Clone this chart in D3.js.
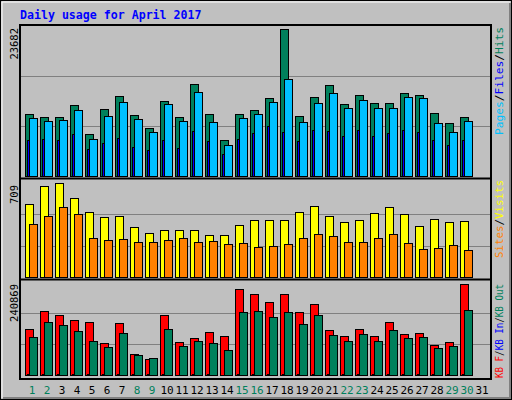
<!DOCTYPE html>
<html><head><meta charset="utf-8">
<script src="https://cdn.jsdelivr.net/npm/d3@7"></script>
<style>body{margin:0;background:#fff}svg{display:block}text{font-family:"DejaVu Sans Mono",monospace}</style>
</head><body><svg id="c" width="512" height="400"></svg>
<script>
const days = d3.range(1,32);
const weekend = [1,2,8,9,15,16,22,23,29,30];
const hits  = [9790,9316,9316,11211,6632,10579,12632,9632,7579,11842,9316,14526,9790,5684,9790,10421,12316,23210,9474,12474,14369,11368,12789,11526,11526,13105,12789,9947,8368,9316];
const pages = [9158,8684,8842,10421,5842,9474,11684,9000,6947,11368,8684,13263,8526,4895,9158,9790,11684,15316,8526,11526,13105,10737,12000,10737,10737,12474,12316,8368,6947,8684];
const files = [5684,5842,5684,6632,4263,5211,6000,4579,4105,5684,4421,7105,5526,3474,5842,6789,7895,6947,5526,7263,7105,6316,7263,6316,6789,7263,6947,5684,4895,5684];
const visits = [549,686,709,595,488,450,457,374,335,358,351,358,320,320,389,427,427,427,488,534,457,412,427,480,526,473,381,435,412,419];
const sites  = [396,457,526,473,297,282,290,267,267,282,297,267,274,252,259,229,236,252,297,328,313,267,267,297,328,259,213,221,244,206];
const kbF   = [119140,165760,155400,142450,137270,82880,134680,54390,41440,155400,85470,95830,111370,101010,222740,209790,189070,209790,163170,183890,116550,101010,119140,101010,137270,106190,108780,77700,85470,235690];
const kbOut = [98420,137270,129500,113960,88060,72520,108780,51800,44030,119140,75110,88060,82880,64750,163170,165760,150220,163170,132090,155400,103600,88060,106190,88060,116550,95830,98420,69930,75110,168350];
const kbIn  = [1500,1500,1500,1500,1500,1500,2500,1500,1500,1500,1000,2500,1500,1000,1500,1500,1500,3500,1500,1500,2500,1500,1500,1500,1500,1500,1500,1500,1500,1500];
const maxHits = 23682, maxVisits = 709, maxKB = 240869;

const svg = d3.select("#c");
svg.append("rect").attr("x",0.5).attr("y",0.5).attr("width",511).attr("height",399).attr("fill","#C0C0C0").attr("stroke","#000");
svg.append("path").attr("d","M2,398V2H510").attr("fill","none").attr("stroke","#fff");
svg.append("path").attr("d","M3,398H510V3").attr("fill","none").attr("stroke","#808080").attr("stroke-width",2);
svg.append("text").attr("x",20).attr("y",19).attr("fill","#0000FF").attr("font-weight","bold").attr("font-size",11.6).text("Daily usage for April 2017");

const x = d3.scaleLinear().domain([1,2]).range([25,40]);
const L=20,R=491;
svg.append("rect").attr("x",L).attr("y",25).attr("width",R-L).attr("height",354).attr("fill","#C0C0C0").attr("stroke","#000").attr("stroke-width",2);
[178.5,279.5].forEach(y=>svg.append("line").attr("x1",L).attr("x2",R).attr("y1",y).attr("y2",y).attr("stroke","#000").attr("stroke-width",2));

function panel(y0,y1,max,series,label){
  const y = d3.scaleLinear().domain([0,max]).range([y0,y1]);
  [max/3,2*max/3].forEach(v=>svg.append("line").attr("x1",L+1).attr("x2",R-1).attr("y1",Math.round(y(v))+0.5).attr("y2",Math.round(y(v))+0.5).attr("stroke","#808080"));
  series.forEach(s=>{
    svg.append("g").selectAll("rect").data(s.data).join("rect")
      .attr("x",(d,i)=>x(i+1)+s.off+0.5).attr("width",s.w)
      .attr("y",d=>Math.round(y(d))+0.5).attr("height",d=>y0-Math.round(y(d)))
      .attr("fill",s.color).attr("stroke","#000").attr("stroke-width",s.stroke);
  });
  svg.append("text").attr("transform",`translate(18,${y1+2}) rotate(-90)`).attr("text-anchor","end").attr("font-size",10.5).attr("fill","#000").text(label);
}
panel(176,26,maxHits,[
  {data:hits,color:"#00805C",off:0,w:8,stroke:1},
  {data:files,color:"#0000FF",off:2,w:8,stroke:1},
  {data:pages,color:"#00C0FF",off:4,w:8,stroke:1}],"23682");
panel(277,183,maxVisits,[
  {data:visits,color:"#FFFF00",off:0,w:8,stroke:1},
  {data:sites,color:"#FF8000",off:4,w:8,stroke:1}],"709");
panel(375,282,maxKB,[
  {data:kbF,color:"#FF0000",off:0,w:8,stroke:1},
  {data:kbIn,color:"#0000FF",off:2,w:8,stroke:1},
  {data:kbOut,color:"#00805C",off:4,w:8,stroke:1}],"240869");

svg.append("g").selectAll("text").data(days).join("text")
  .attr("x",d=>x(d)+7).attr("y",394).attr("text-anchor","middle").attr("font-size",11)
  .attr("fill",d=>weekend.includes(d)?"#00805C":"#000").text(d=>d);

function legend(yTop,len,parts){
  const t=svg.append("text").attr("transform",`translate(503,${yTop}) rotate(-90)`).attr("text-anchor","end")
    .attr("font-size",10).attr("textLength",len).attr("lengthAdjust","spacingAndGlyphs");
  parts.forEach(p=>t.append("tspan").attr("fill",p[1]).text(p[0]));
}
legend(27,108,[["Pages","#00C0FF"],["/","#000"],["Files","#0000FF"],["/","#000"],["Hits","#00805C"]]);
legend(180,78,[["Sites","#FF8000"],["/","#000"],["Visits","#FFFF00"]]);
legend(284,94,[["KB F","#FF0000"],["/","#000"],["KB In","#0000FF"],["/","#000"],["KB Out","#00805C"]]);
</script></body></html>
